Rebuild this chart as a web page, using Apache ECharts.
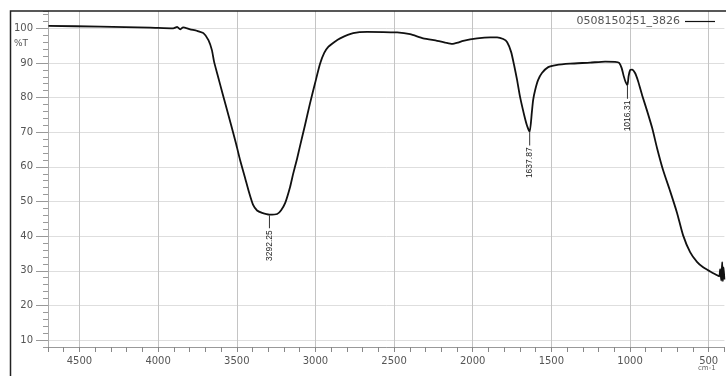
<!DOCTYPE html>
<html>
<head>
<meta charset="utf-8">
<script src="https://cdn.jsdelivr.net/npm/echarts@6/dist/echarts.min.js"></script>
<style>
  html, body { margin: 0; padding: 0; background: #fff; }
  #main { width: 726px; height: 376px; }
</style>
</head>
<body>
<div id="main"></div>
<script>
// spectrum trace (cm-1 / %T)
var wavenumber = [4697, 4368, 4050, 3904, 3879, 3860, 3841, 3796, 3754, 3712, 3680, 3658, 3644, 3618, 3593,
  3567, 3536, 3504, 3479, 3447, 3421, 3396, 3371, 3339, 3292.25, 3243, 3218, 3192, 3161, 3142, 3117,
  3098, 3066, 3034, 3002, 2971, 2944, 2917, 2881, 2843, 2760, 2671, 2480, 2398, 2315, 2226, 2175,
  2131, 2093, 2061, 1972, 1889, 1845, 1806, 1781, 1756, 1737, 1718, 1699, 1673, 1654, 1637.87, 1624,
  1616, 1603, 1584, 1560, 1520, 1470, 1381, 1254, 1158, 1095, 1069, 1053, 1040, 1028, 1016.31, 1009,
  999, 987, 968, 949, 923, 891, 859, 828, 790, 745, 701, 663, 618, 573, 535, 490, 458, 433,
  427, 420, 414, 410, 405, 400];
var transmittance = [100.7, 100.5, 100.2, 100.0, 100.4, 99.7, 100.3, 99.7, 99.3, 98.6, 96.6, 93.7, 90.3, 85.9, 81.6,
  77.3, 72.1, 66.6, 62.0, 56.8, 52.5, 49.0, 47.4, 46.7, 46.2, 46.4, 47.5, 49.6, 54.2, 57.9, 62.3,
  66.0, 72.1, 78.4, 84.2, 89.7, 92.9, 94.7, 96.0, 97.1, 98.6, 99.0, 98.8, 98.3, 97.1, 96.4, 95.9,
  95.5, 95.9, 96.4, 97.1, 97.4, 97.4, 96.9, 96.0, 93.2, 89.4, 85.1, 80.2, 75.0, 71.8, 70.1, 75.8,
  79.3, 82.2, 85.1, 87.1, 88.8, 89.4, 89.8, 90.1, 90.4, 90.3, 90.0, 88.5, 86.2, 84.5, 83.6, 86.2,
  88.0, 88.1, 87.1, 84.8, 80.7, 76.1, 71.2, 65.4, 59.1, 53.0, 46.7, 40.3, 35.4, 32.5, 31.0, 29.8, 29.0, 28.4,
  30.5, 27.2, 32.5, 27.0, 31.0, 27.5];

// picked peaks
var peakWn = [3292.25, 1637.87, 1016.31];
var peakT = [46.2, 70.1, 83.6];
var peakLabels = ['3292.25', '1637.87', '1016.31'];

// axes
var xTicks = [4500, 4000, 3500, 3000, 2500, 2000, 1500, 1000, 500];
var yTicks = [10, 20, 30, 40, 50, 60, 70, 80, 90, 100];
var sampleName = '0508150251_3826';

var spectrum = wavenumber.map(function (w, i) { return [w, transmittance[i]]; });
var peaks = peakWn.map(function (w, i) {
  return { name: peakLabels[i], coord: [w, peakT[i]] };
});
var plain = function (v) { return String(v); };

var font = 'DejaVu Sans';
var chart = echarts.init(document.getElementById('main'));

chart.setOption({
  animation: false,
  backgroundColor: '#fff',
  textStyle: { fontFamily: font },
  grid: { left: 48, right: 1.6, top: 11, bottom: 29, containLabel: false, outerBoundsMode: 'none' },
  legend: {
    right: 6,
    top: 11,
    align: 'right',
    icon: 'rect',
    itemWidth: 30,
    itemHeight: 1.2,
    itemGap: 4,
    textStyle: { fontSize: 11, color: '#555', fontFamily: font },
    data: [sampleName]
  },
  graphic: [
    {
      type: 'rect', silent: true, z: 100,
      shape: { x: 10.5, y: 11, width: 740, height: 400 },
      style: { fill: 'none', stroke: '#222', lineWidth: 1.5 }
    },
    {
      type: 'text', left: 14, top: 39,
      style: { text: '%T', fontSize: 9, fill: '#555', fontFamily: font }
    },
    {
      type: 'text', left: 698, top: 365,
      style: { text: 'cm-1', fontSize: 7, fill: '#666', fontFamily: font }
    }
  ],
  xAxis: [
    {
      type: 'value',
      position: 'bottom',
      inverse: true,
      min: 400,
      max: 4700,
      interval: 100,
      axisLine: { lineStyle: { color: '#999' } },
      axisTick: { length: 5, lineStyle: { color: '#888' } },
      axisLabel: {
        customValues: xTicks,
        formatter: plain,
        margin: 9,
        fontSize: 10,
        color: '#555'
      },
      splitLine: { show: false }
    },
    {
      type: 'value',
      position: 'bottom',
      inverse: true,
      min: 400,
      max: 4700,
      axisLine: { show: false },
      axisTick: { show: false, customValues: xTicks },
      axisLabel: { show: false },
      splitLine: { show: true, lineStyle: { color: '#c4c4c4', width: 1 } }
    }
  ],
  yAxis: [
    {
      type: 'value',
      position: 'left',
      min: 8,
      max: 105,
      interval: 2,
      axisLine: { show: true, lineStyle: { color: '#aaa' } },
      axisTick: { length: 5, lineStyle: { color: '#999' } },
      axisLabel: { show: false },
      splitLine: { show: false }
    },
    {
      type: 'value',
      position: 'left',
      min: 8,
      max: 105,
      axisLine: { show: false },
      axisTick: { show: true, customValues: yTicks, length: 12, lineStyle: { color: '#999' } },
      axisLabel: { customValues: yTicks, formatter: plain, margin: 15, fontSize: 10, color: '#555' },
      splitLine: { show: true, lineStyle: { color: '#dedede', width: 1 } }
    }
  ],
  series: [
    {
      name: sampleName,
      type: 'line',
      xAxisIndex: 0,
      yAxisIndex: 0,
      data: spectrum,
      showSymbol: false,
      smooth: 0.2,
      color: '#111',
      lineStyle: { color: '#111', width: 1.8, join: 'round' },
      markPoint: {
        symbol: 'rect',
        symbolSize: [1, 13],
        symbolOffset: [0, 7],
        itemStyle: { color: '#333' },
        label: {
          show: true,
          position: 'bottom',
          distance: 2,
          rotate: 90,
          align: 'right',
          verticalAlign: 'middle',
          fontSize: 8.5,
          fontFamily: 'Liberation Sans Narrow, Liberation Sans',
          color: '#222',
          formatter: function (p) { return p.name; }
        },
        data: peaks
      }
    }
  ]
});
</script>
</body>
</html>
